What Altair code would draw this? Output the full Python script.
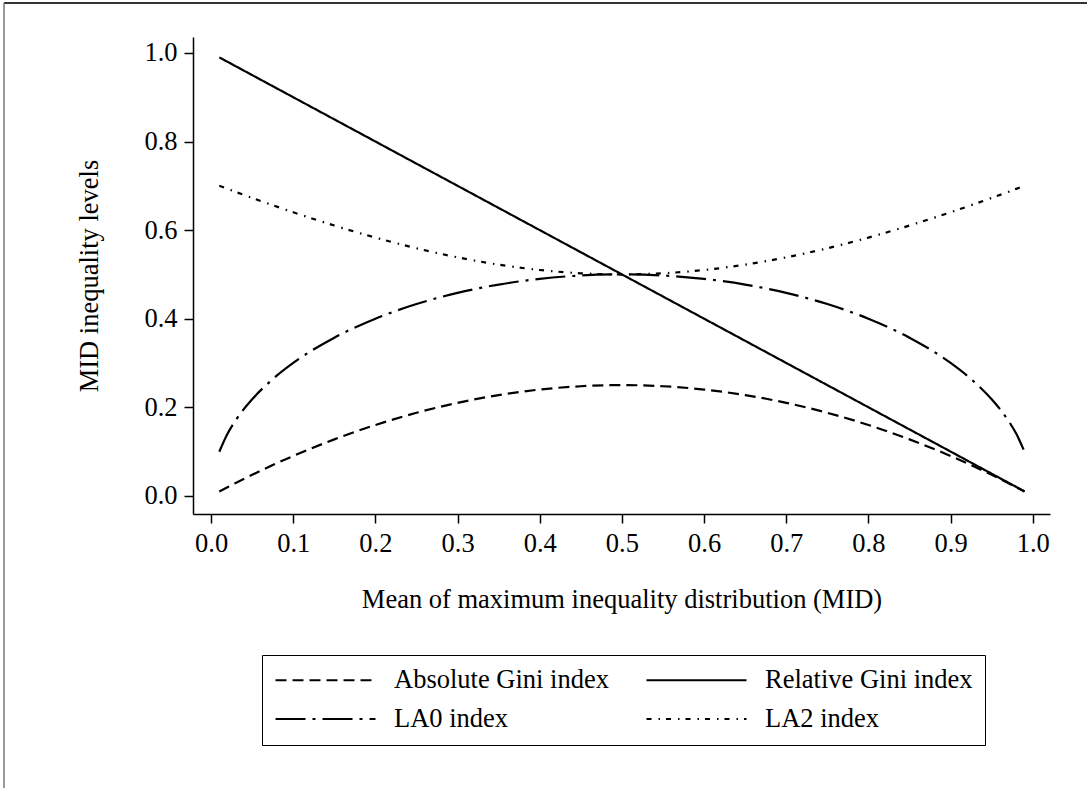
import altair as alt
import pandas as pd

mid = [0.01, 0.02, 0.03, 0.05, 0.075, 0.10, 0.15, 0.20, 0.25, 0.30, 0.35, 0.40, 0.45, 0.50,
       0.55, 0.60, 0.65, 0.70, 0.75, 0.80, 0.85, 0.90, 0.925, 0.95, 0.97, 0.98, 0.99]

abs_gini = [0.0099, 0.0196, 0.0291, 0.0475, 0.0694, 0.0900, 0.1275, 0.1600, 0.1875, 0.2100, 0.2275, 0.2400, 0.2475, 0.2500,
            0.2475, 0.2400, 0.2275, 0.2100, 0.1875, 0.1600, 0.1275, 0.0900, 0.0694, 0.0475, 0.0291, 0.0196, 0.0099]

rel_gini = [0.99, 0.98, 0.97, 0.95, 0.925, 0.90, 0.85, 0.80, 0.75, 0.70, 0.65, 0.60, 0.55, 0.50,
            0.45, 0.40, 0.35, 0.30, 0.25, 0.20, 0.15, 0.10, 0.075, 0.05, 0.03, 0.02, 0.01]

la0 = [0.0995, 0.1400, 0.1706, 0.2179, 0.2634, 0.3000, 0.3571, 0.4000, 0.4330, 0.4583, 0.4770, 0.4899, 0.4975, 0.5000,
       0.4975, 0.4899, 0.4770, 0.4583, 0.4330, 0.4000, 0.3571, 0.3000, 0.2634, 0.2179, 0.1706, 0.1400, 0.0995]

la2 = [0.7001, 0.6931, 0.6862, 0.6727, 0.6562, 0.6403, 0.6103, 0.5831, 0.5590, 0.5385, 0.5220, 0.5099, 0.5025, 0.5000,
       0.5025, 0.5099, 0.5220, 0.5385, 0.5590, 0.5831, 0.6103, 0.6403, 0.6562, 0.6727, 0.6862, 0.6931, 0.7001]

series_names = ["Absolute Gini index", "Relative Gini index", "LA0 index", "LA2 index"]
series_values = [abs_gini, rel_gini, la0, la2]
dashes = [[11, 6], [1, 0], [30, 7, 3, 7], [5, 7, 1.5, 6]]

x_ticks = [0.0, 0.1, 0.2, 0.3, 0.4, 0.5, 0.6, 0.7, 0.8, 0.9, 1.0]
y_ticks = [0.0, 0.2, 0.4, 0.6, 0.8, 1.0]

rows = []
for name, vals in zip(series_names, series_values):
    for xv, yv in zip(mid, vals):
        rows.append({"mid": xv, "level": yv, "series": name})
df = pd.DataFrame(rows)

FONT = "Liberation Serif"
FS = 26.5

lines = alt.Chart(df).mark_line(color="black", strokeWidth=2.2, interpolate="monotone").encode(
    x=alt.X("mid:Q",
            scale=alt.Scale(domain=[-0.022, 1.021], nice=False, zero=False),
            axis=alt.Axis(values=x_ticks, format=".1f", title="Mean of maximum inequality distribution (MID)",
                          grid=False, tickSize=9, labelPadding=7, titlePadding=30)),
    y=alt.Y("level:Q",
            scale=alt.Scale(domain=[-0.041, 1.036], nice=False, zero=False),
            axis=alt.Axis(values=y_ticks, format=".1f", title="MID inequality levels",
                          grid=False, tickSize=9, labelPadding=7, titlePadding=40)),
    strokeDash=alt.StrokeDash("series:N",
                              scale=alt.Scale(domain=series_names, range=dashes),
                              legend=alt.Legend(title=None, orient="none", legendX=69, legendY=618,
                                                direction="horizontal",
                                                columns=2, symbolType="stroke", symbolSize=10000,
                                                symbolStrokeWidth=2.2, symbolStrokeColor="black",
                                                clipHeight=26, labelOffset=17, columnPadding=36,
                                                rowPadding=12, padding=12, strokeColor="black",
                                                fillColor="white", labelFontSize=FS, labelFont=FONT,
                                                labelColor="black", labelLimit=400)),
    detail="series:N",
    order="mid:Q",
)

frame_top = alt.Chart(pd.DataFrame({"k": [0]})).mark_rule(color="#333333", strokeWidth=2).encode(
    x=alt.value(-189), x2=alt.value(894), y=alt.value(-34))
frame_left = alt.Chart(pd.DataFrame({"k": [0]})).mark_rule(color="#777777", strokeWidth=1.5).encode(
    x=alt.value(-189), y=alt.value(-34), y2=alt.value(751))

chart = alt.layer(lines, frame_top, frame_left).properties(
    width=857, height=477,
    autosize=alt.AutoSizeParams(type="none"),
    padding={"left": 193, "top": 37, "right": 37, "bottom": 274},
    background="white",
).configure_view(stroke=None).configure_axis(
    labelFont=FONT, titleFont=FONT, labelFontSize=FS, titleFontSize=FS,
    labelColor="black", titleColor="black", titleFontWeight="normal",
    domainColor="black", tickColor="black", domainWidth=1.5, tickWidth=1.5,
)

chart.save("out.html", embed_options={"renderer": "svg", "actions": False})
